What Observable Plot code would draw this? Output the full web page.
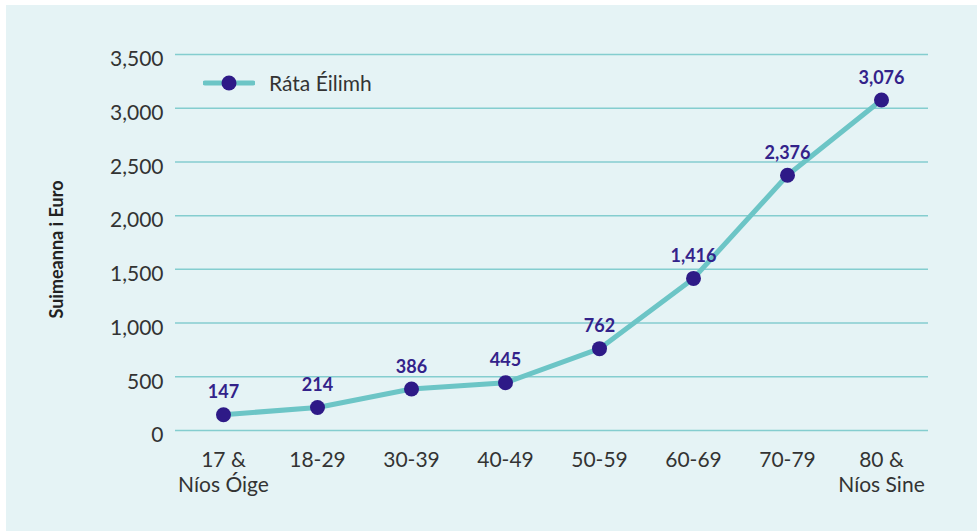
<!DOCTYPE html>
<html>
<head>
<meta charset="utf-8">
<script src="https://cdn.jsdelivr.net/npm/d3@7"></script>
<script src="https://cdn.jsdelivr.net/npm/@observablehq/plot@0.6"></script>
<style>
  html, body { margin: 0; padding: 0; background: #ffffff; }
  #wrap { position: relative; width: 977px; height: 531px; overflow: hidden; }
  #panel { position: absolute; left: 6px; top: 5px; right: 0; bottom: 0; background: #e5f3f5; }
  #chart { position: absolute; left: 0; top: 0; }
  #legend { position: absolute; left: 203px; top: 70px; display: flex; align-items: center;
            font-family: Lato, sans-serif; font-size: 21px; color: #333333; }
  #legend svg { margin-right: 14px; }
</style>
</head>
<body>
<div id="wrap">
  <div id="panel"></div>
  <div id="chart"></div>
  <div id="legend">
    <svg width="52" height="20"><line x1="2" y1="10" x2="50" y2="10" stroke="#6cc5c6" stroke-width="5" stroke-linecap="round"/><circle cx="26" cy="10" r="7.5" fill="#2e1a87"/></svg>
    <span>Ráta Éilimh</span>
  </div>
</div>
<script>
const categories = ["17 &\nNíos Óige", "18-29", "30-39", "40-49", "50-59", "60-69", "70-79", "80 &\nNíos Sine"];
const values = [147, 214, 386, 445, 762, 1416, 2376, 3076];
const yTicks = [0, 500, 1000, 1500, 2000, 2500, 3000, 3500];
const seriesName = "Ráta Éilimh";
const yLabel = "Suimeanna i Euro";

const data = categories.map((c, i) => ({cat: c, value: values[i]}));
const fmt = d3.format(",");

const chart = Plot.plot({
  width: 977,
  height: 531,
  marginTop: 54,
  marginBottom: 101,
  marginLeft: 175,
  marginRight: 49,
  style: {background: "transparent", fontFamily: "Lato, sans-serif", color: "#333333"},
  x: {type: "band", domain: categories, padding: 0},
  y: {domain: [0, 3500]},
  marks: [
    Plot.gridY(yTicks, {stroke: "#84cdcf", strokeOpacity: 1, strokeWidth: 1.5}),
    Plot.axisY(yTicks, {tickSize: 0, tickPadding: 12, dy: 5, fontSize: 21, tickFormat: fmt, label: null, fill: "#333333"}),
    Plot.axisX({tickSize: 0, tickPadding: 19, fontSize: 21, lineHeight: 1.19, label: null, fill: "#333333"}),
    Plot.text([yLabel], {frameAnchor: "left", textAnchor: "middle", dx: -118, dy: 7, rotate: -90, fontSize: 18, fontWeight: "bold", fill: "#222222"}),
    Plot.line(data, {x: "cat", y: "value", stroke: "#6cc5c6", strokeWidth: 5}),
    Plot.dot(data, {x: "cat", y: "value", r: 7.5, fill: "#2e1a87", stroke: "none"}),
    Plot.text(data, {x: "cat", y: "value", text: d => fmt(d.value), dy: -22, fontSize: 18, fontWeight: "bold", fill: "#33228a"})
  ]
});
document.getElementById("chart").appendChild(chart);
</script>
</body>
</html>
